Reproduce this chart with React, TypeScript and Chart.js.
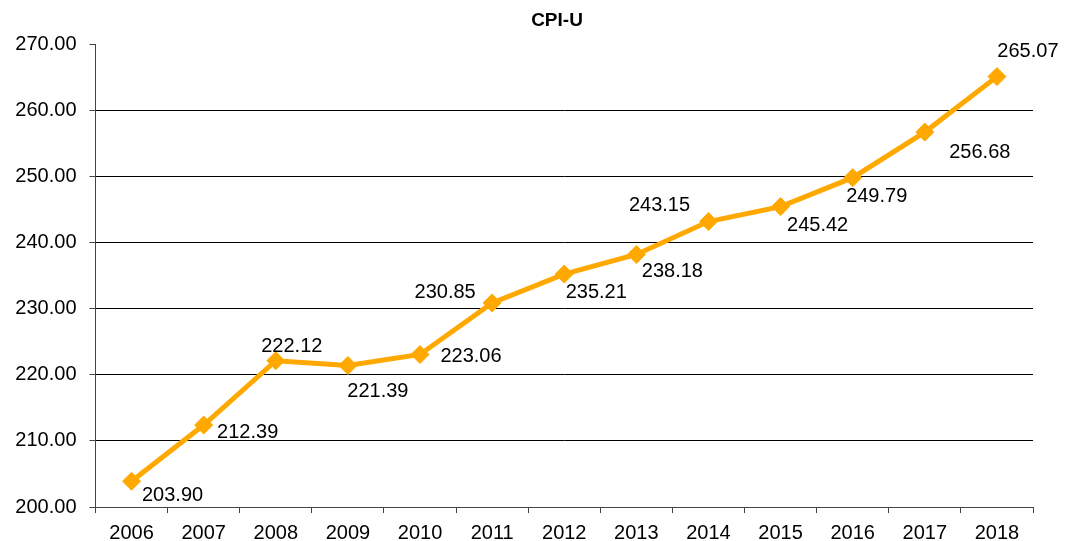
import React, { useEffect, useRef } from "react";
import { Chart, registerables } from "chart.js";

Chart.register(...registerables);

const TITLE = "CPI-U";
const YEARS = ["2006", "2007", "2008", "2009", "2010", "2011", "2012", "2013", "2014", "2015", "2016", "2017", "2018"];
const CPI_VALUES = [203.9, 212.39, 222.12, 221.39, 223.06, 230.85, 235.21, 238.18, 243.15, 245.42, 249.79, 256.68, 265.07];
const Y_MIN = 200;
const Y_MAX = 270;
const Y_STEP = 10;

// label placement (style): offset of each data label from its point
const LABEL_DX = [41, 44, 16, 30, 51, -47, 32, 36, -49, 37, 24, 55, 31];
const LABEL_DY = [14, 7, -14, 26, 2, -10, 18, 17, -16, 19, 19, 20, -25];

const FONT = "'Liberation Sans', Arial, sans-serif";
const ORANGE = "#FFA800";

export default function App() {
  const ref = useRef<HTMLCanvasElement | null>(null);
  useEffect(() => {
    document.body.style.margin = "0";
    const canvas = ref.current;
    if (!canvas) return;

    const labelsPlugin = {
      id: "labelsPlugin",
      afterDatasetsDraw(chart: any) {
        const ctx = chart.ctx;
        const meta = chart.getDatasetMeta(0);
        ctx.save();
        ctx.font = `20px ${FONT}`;
        ctx.fillStyle = "#000";
        ctx.textAlign = "center";
        ctx.textBaseline = "middle";
        meta.data.forEach((pt: any, i: number) => {
          ctx.fillText(CPI_VALUES[i].toFixed(2), pt.x + LABEL_DX[i], pt.y + LABEL_DY[i]);
        });
        ctx.restore();
      },
      afterDraw(chart: any) {
        const ctx = chart.ctx;
        ctx.save();
        ctx.font = `bold 19px ${FONT}`;
        ctx.fillStyle = "#000";
        ctx.textAlign = "center";
        ctx.textBaseline = "middle";
        ctx.fillText(TITLE, 557, 21);
        ctx.restore();
      },
    };

    const chart = new Chart(canvas, {
      type: "line",
      data: {
        labels: YEARS,
        datasets: [
          {
            data: CPI_VALUES,
            borderColor: ORANGE,
            backgroundColor: ORANGE,
            borderWidth: 5,
            pointStyle: "rectRot",
            pointRadius: 9,
            pointBorderWidth: 1,
            pointBackgroundColor: ORANGE,
            pointBorderColor: ORANGE,
            tension: 0,
          },
        ],
      },
      options: {
        animation: false,
        responsive: false,
        layout: { padding: { top: 44, right: 44, left: 0, bottom: 0 } },
        plugins: { legend: { display: false }, title: { display: false }, tooltip: { enabled: false } },
        scales: {
          x: {
            offset: true,
            grid: {
              offset: true,
              drawOnChartArea: false,
              tickLength: 6,
              tickColor: "#444",
            },
            border: { display: true, color: "#444", width: 1 },
            ticks: { color: "#000", font: { family: FONT, size: 20 }, padding: 8, maxRotation: 0 },
            afterFit: (s: any) => {
              s.height = 34;
            },
          },
          y: {
            min: Y_MIN,
            max: Y_MAX,
            grid: {
              color: (c: any) => (c.tick && c.tick.value === Y_MAX ? "rgba(0,0,0,0)" : "#000"),
              tickColor: "#444",
              tickLength: 6,
              lineWidth: 1,
            },
            border: { display: true, color: "#444", width: 1 },
            ticks: {
              stepSize: Y_STEP,
              color: "#000",
              font: { family: FONT, size: 20 },
              padding: 13,
              callback: (v: any) => Number(v).toFixed(2),
            },
            afterFit: (s: any) => {
              s.width = 95.5;
            },
          },
        },
      },
      plugins: [labelsPlugin],
    });
    return () => chart.destroy();
  }, []);
  return <canvas ref={ref} width={1077} height={541} style={{ display: "block" }} />;
}
